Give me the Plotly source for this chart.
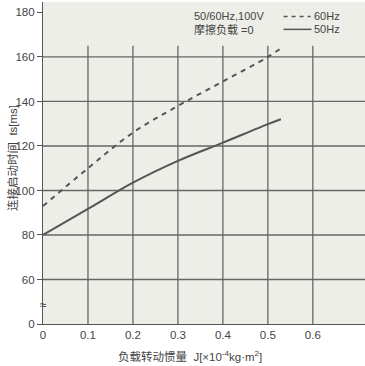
import plotly.graph_objects as go

# Data (y values in ms; axis is broken between 0 and 60)
j_60 = [0.0, 0.1, 0.2, 0.3, 0.4, 0.5, 0.533]
ts_60 = [93, 110, 126, 138, 149, 160, 164.5]
j_50 = [0.0, 0.1, 0.2, 0.3, 0.4, 0.5, 0.529]
ts_50 = [80, 91.7, 103.5, 113.3, 121.5, 129.8, 132]
x_ticks = [0, 0.1, 0.2, 0.3, 0.4, 0.5, 0.6]
x_ticktext = ["0", "0.1", "0.2", "0.3", "0.4", "0.5", "0.6"]
y_tickvals = [40, 60, 80, 100, 120, 140, 160, 180]   # 40 stands for the broken-axis zero
y_ticktext = ["0", "60", "80", "100", "120", "140", "160", "180"]
h_grid = [60, 80, 100, 120, 140, 160]
v_grid = [0.1, 0.2, 0.3, 0.4, 0.5, 0.6]

FONT = "Liberation Sans Narrow, Liberation Sans, Arial, Noto Sans CJK SC"
GRID = "#666666"
LINE = "#555555"
TXT = "#444444"

fig = go.Figure()
fig.add_trace(go.Scatter(x=j_60, y=ts_60, mode="lines",
                         line=dict(color=LINE, width=2, dash="5px,5px"),
                         line_shape="spline", showlegend=False, hoverinfo="skip"))
fig.add_trace(go.Scatter(x=j_50, y=ts_50, mode="lines",
                         line=dict(color=LINE, width=2),
                         line_shape="spline", showlegend=False, hoverinfo="skip"))

shapes = []
for g in h_grid:
    shapes.append(dict(type="line", xref="paper", yref="y", x0=0, x1=1, y0=g, y1=g,
                       line=dict(color=GRID, width=1.3), layer="below"))
for v in v_grid:
    shapes.append(dict(type="line", xref="x", yref="y", x0=v, x1=v, y0=40, y1=165,
                       line=dict(color=GRID, width=1.3), layer="below"))
# legend samples
shapes.append(dict(type="line", xref="x", yref="y", x0=0.535, x1=0.595, y0=178.2, y1=178.2,
                   line=dict(color=LINE, width=1.5, dash="4px,4px")))
shapes.append(dict(type="line", xref="x", yref="y", x0=0.535, x1=0.597, y0=172.4, y1=172.4,
                   line=dict(color=LINE, width=1.5)))
fig.update_layout(shapes=shapes)

W, H, L, R, T, B = 365, 366, 43, 0, 2, 42
pw, ph = W - L - R, H - T - B

annotations = [
    dict(x=0.331, y=178.2, xref="x", yref="y", text="50/60Hz,100V", showarrow=False,
         xanchor="left", yanchor="middle", font=dict(size=11, color=TXT, family=FONT)),
    dict(x=0.331, y=172.2, xref="x", yref="y", text="摩擦负载 =0", showarrow=False,
         xanchor="left", yanchor="middle", font=dict(size=11, color=TXT, family=FONT)),
    dict(x=0.598, y=178.2, xref="x", yref="y", text="60Hz", showarrow=False,
         xanchor="left", yanchor="middle", font=dict(size=11, color=TXT, family=FONT)),
    dict(x=0.598, y=172.4, xref="x", yref="y", text="50Hz", showarrow=False,
         xanchor="left", yanchor="middle", font=dict(size=11, color=TXT, family=FONT)),
    dict(x=0, y=48.5, xref="x", yref="y", text="≈", showarrow=False,
         xanchor="center", yanchor="middle", font=dict(size=12, color="#333333", family=FONT)),
    dict(x=(12 - L) / pw, y=(H - B - 158) / ph, xref="paper", yref="paper",
         text="连接启动时间  ts[ms]", showarrow=False,
         textangle=-90, xanchor="center", yanchor="middle",
         font=dict(size=11.5, color=TXT, family=FONT)),
    dict(x=(190 - L) / pw, y=(H - B - 356) / ph, xref="paper", yref="paper",
         text="负载转动惯量  J[×10<sup>-4</sup>kg·m<sup>2</sup>]", showarrow=False,
         xanchor="center", yanchor="middle", font=dict(size=11.5, color=TXT, family=FONT)),
]
fig.update_layout(annotations=annotations)

fig.update_xaxes(range=[0, 0.716], tickvals=x_ticks, ticktext=x_ticktext, automargin=False,
                 showgrid=False, zeroline=False, showline=True, linecolor="#555555", linewidth=1.2,
                 ticks="", tickfont=dict(size=11.5, color=TXT, family=FONT))
fig.update_yaxes(range=[40, 184.7], tickvals=y_tickvals, ticktext=y_ticktext, automargin=False,
                 showgrid=False, zeroline=False, showline=True, linecolor="#555555", linewidth=1.2,
                 ticks="outside", ticklen=5, tickcolor="#555555",
                 tickfont=dict(size=11.5, color=TXT, family=FONT))

fig.update_layout(width=W, height=H, margin=dict(l=L, r=R, t=T, b=B),
                  paper_bgcolor="white", plot_bgcolor="#eeeee8")

fig.write_html("out.html", config={"displayModeBar": False},
               post_script="document.body.style.margin='0';document.body.style.overflow='hidden';")
